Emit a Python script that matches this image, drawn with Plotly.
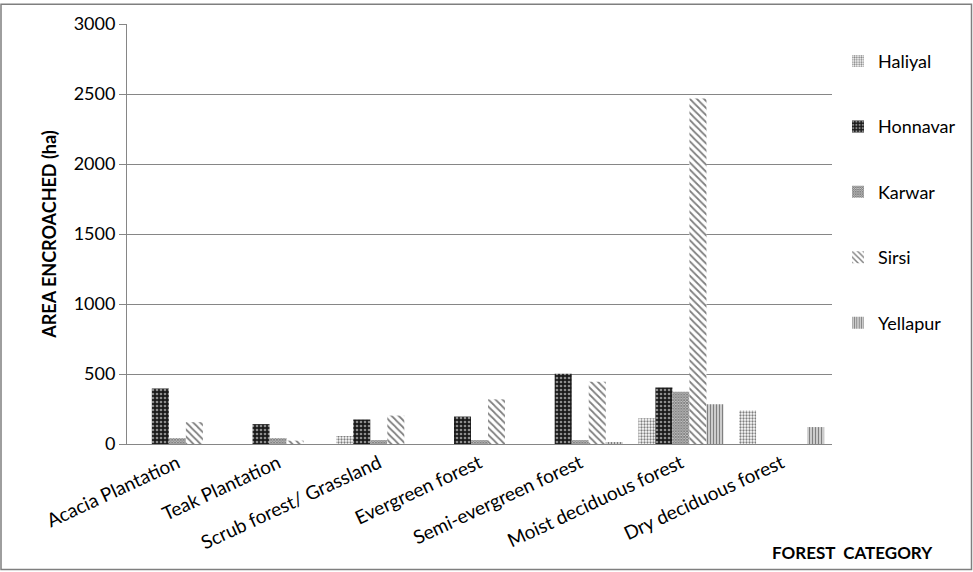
import plotly.graph_objects as go

categories = ["Acacia Plantation", "Teak Plantation", "Scrub forest/ Grassland",
              "Evergreen forest", "Semi-evergreen forest", "Moist deciduous forest",
              "Dry deciduous forest"]
haliyal = [0, 0, 57, 0, 0, 184, 239]
honnavar = [397, 142, 175, 196, 501, 404, 0]
karwar = [42, 42, 28, 28, 28, 374, 0]
sirsi = [156, 24, 203, 319, 445, 2468, 0]
yellapur = [0, 0, 0, 0, 14, 284, 121]

series = [
    ("Haliyal", haliyal, dict(shape=".", size=3, solidity=0.45,
                               fgcolor="black", bgcolor="white")),
    ("Honnavar", honnavar, dict(shape=".", size=4, solidity=0.35,
                                 fgcolor="white", bgcolor="#1a1a1a")),
    ("Karwar", karwar, dict(shape="x", size=2, solidity=0.8,
                             fgcolor="black", bgcolor="white")),
    ("Sirsi", sirsi, dict(shape="\\", size=5, solidity=0.35,
                           fgcolor="black", bgcolor="white")),
    ("Yellapur", yellapur, dict(shape="|", size=3, solidity=0.6,
                                 fgcolor="black", bgcolor="white")),
]

FONT = "Lato, 'Open Sans', 'DejaVu Sans', sans-serif"
GRID = "#868686"

fig = go.Figure()
for i, (name, vals, pat) in enumerate(series):
    fig.add_trace(go.Bar(
        name=name, x=categories, y=vals, legendgroup=f"g{i}",
        marker=dict(color="white", line=dict(width=0), pattern=pat),
    ))

L, R, T, B = 127, 141, 21, 128
W, H = 973, 572
pw, ph = W - L - R, H - T - B

fig.update_layout(
    width=W, height=H,
    margin=dict(l=L, r=R, t=T, b=B),
    paper_bgcolor="white", plot_bgcolor="white",
    barmode="group", bargap=0.155, bargroupgap=0,
    font=dict(family=FONT, size=18, color="black"),
    legend=dict(x=(838 - L) / pw, y=1 - (40 - T) / ph, xanchor="left", yanchor="top",
                tracegroupgap=39, font=dict(size=18), itemwidth=30,
                bgcolor="rgba(0,0,0,0)"),
    xaxis=dict(showline=True, linecolor=GRID, linewidth=1, tickangle=-25,
               ticks="", showgrid=False, tickfont=dict(size=19)),
    yaxis=dict(range=[0, 3000], dtick=500, showgrid=True, gridcolor=GRID,
               gridwidth=1, showline=True, linecolor=GRID, ticks="outside",
               ticklen=7, tickcolor=GRID, tickfont=dict(size=18),
               title=dict(text="<b>AREA ENCROACHED (ha)</b>", font=dict(size=18),
                          standoff=12),
               zeroline=False),
    shapes=[dict(type="rect", xref="paper", yref="paper",
                 x0=-(L - 1) / pw, x1=1 + (R - 1.5) / pw,
                 y0=-(B - 1.5) / ph, y1=1 + (T - 1) / ph,
                 line=dict(color="#7f7f7f", width=1.5))],
    annotations=[dict(text="<b>FOREST  CATEGORY</b>", xref="paper", yref="paper",
                      x=(852 - L) / pw, y=-(553 - (T + ph)) / ph,
                      xanchor="center", yanchor="middle", showarrow=False,
                      font=dict(size=17))],
)

fig.write_html(
    "out.html",
    config={"displayModeBar": False},
    post_script=("document.documentElement.style.margin='0';"
                 "document.body.style.margin='0';document.body.style.padding='0';"
                 "document.body.style.overflow='hidden';"),
)
